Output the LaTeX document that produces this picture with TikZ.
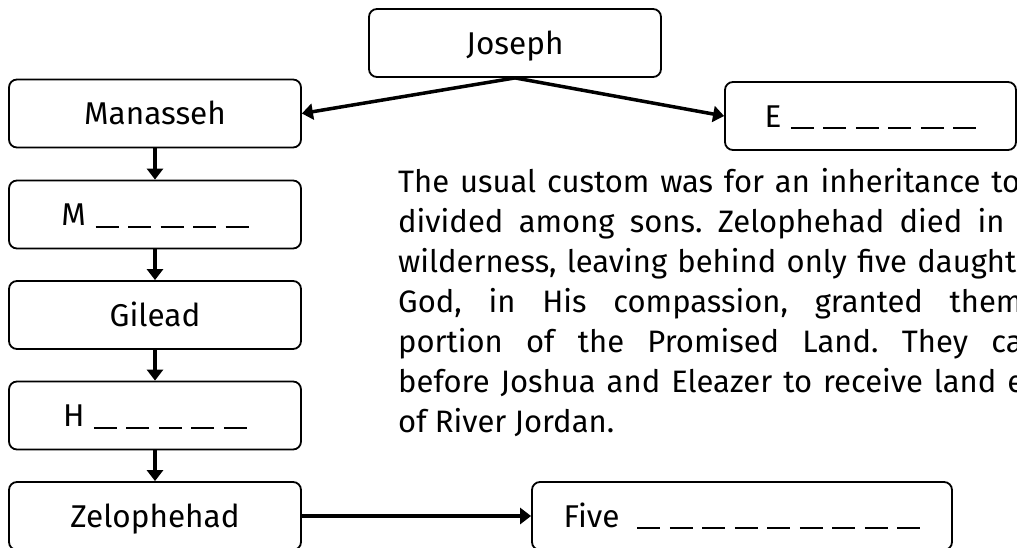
\documentclass[tikz,border=0pt]{standalone}
\usepackage{fontspec}
\setmainfont{Fira Sans}
\frenchspacing
\usetikzlibrary{arrows.meta}
\newcommand{\blank}{\hspace{9.5pt}\rule[-2pt]{23pt}{2pt}}
\tikzset{
  box/.style={draw, line width=1.8pt, rounded corners=8pt, minimum height=68pt,
    inner sep=0pt, text height=29pt, text depth=7pt, font=\fontsize{31.5}{36}\selectfont},
  conn/.style={line width=3.5pt, -{Triangle[length=11pt,width=16pt]}},
  para/.style={anchor=base west, inner sep=0pt, font=\fontsize{31}{40}\selectfont}
}
\begin{document}
\begin{tikzpicture}[x=1pt,y=-1pt]
\useasboundingbox (0,0) rectangle (1017,547);
\begin{scope}
\clip (0,0) rectangle (1017,547);
\node[box, minimum width=292pt] (joseph) at (515,43) {Joseph};
\node[box, minimum width=292pt] (manasseh) at (155,113.5) {Manasseh};
\node[box, minimum width=292pt] (m) at (155,214.5) {M\blank\blank\blank\blank\blank};
\node[box, minimum width=292pt] (gilead) at (155,315) {Gilead};
\node[box, minimum width=292pt] (h) at (155,415.5) {H\blank\blank\blank\blank\blank};
\node[box, minimum width=292pt] (zel) at (155,516) {Zelophehad};
\node[box, minimum width=291pt] (e) at (870.5,116) {E\blank\blank\blank\blank\blank\blank};
\node[box, minimum width=420pt] (five) at (742,516) {Five \blank\blank\blank\blank\blank\blank\blank\blank\blank};

\node[para] (l1) at (398,192) {\makebox[668pt][s]{The usual custom was for an inheritance to be}};
\node[para] (l2) at (398,232) {\makebox[668pt][s]{divided among sons. Zelophehad died in the}};
\node[para] (l3) at (398,272) {\makebox[668pt][s]{wilderness, leaving behind only five daughters.}};
\node[para] (l4) at (398,312) {\makebox[668pt][s]{God, in His compassion, granted them a}};
\node[para] (l5) at (398,352) {\makebox[668pt][s]{portion of the Promised Land. They came}};
\node[para] (l6) at (398,392) {\makebox[668pt][s]{before Joshua and Eleazer to receive land east}};
\node[para] (l7) at (398,432) {of River Jordan.};
\end{scope}

\draw[conn] (joseph.south) -- (manasseh.east);
\draw[conn] (joseph.south) -- (e.west);
\draw[conn] (manasseh) -- (m);
\draw[conn] (m) -- (gilead);
\draw[conn] (gilead) -- (h);
\draw[conn] (h) -- (zel);
\draw[conn] (zel) -- (five);
\end{tikzpicture}
\end{document}
